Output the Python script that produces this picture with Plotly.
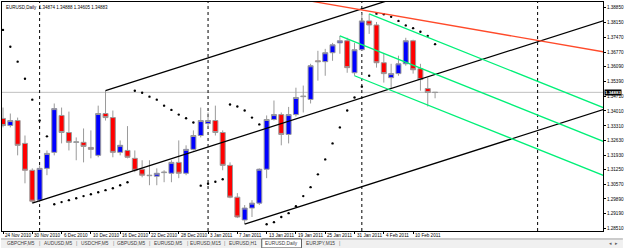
import plotly.graph_objects as go

# ---------------- data ----------------
dates = ["2010-11-24", "2010-11-25", "2010-11-26", "2010-11-29", "2010-11-30",
         "2010-12-01", "2010-12-02", "2010-12-03", "2010-12-06", "2010-12-07",
         "2010-12-08", "2010-12-09", "2010-12-10", "2010-12-13", "2010-12-14",
         "2010-12-15", "2010-12-16", "2010-12-17", "2010-12-20", "2010-12-21",
         "2010-12-22", "2010-12-23", "2010-12-24", "2010-12-27", "2010-12-28",
         "2010-12-29", "2010-12-30", "2010-12-31", "2011-01-03", "2011-01-04",
         "2011-01-05", "2011-01-06", "2011-01-07", "2011-01-10", "2011-01-11",
         "2011-01-12", "2011-01-13", "2011-01-14", "2011-01-17", "2011-01-18",
         "2011-01-19", "2011-01-20", "2011-01-21", "2011-01-24", "2011-01-25",
         "2011-01-26", "2011-01-27", "2011-01-28", "2011-01-31", "2011-02-01",
         "2011-02-02", "2011-02-03", "2011-02-04", "2011-02-07", "2011-02-08",
         "2011-02-09", "2011-02-10", "2011-02-11", "2011-02-14", "2011-02-15"]

opens = [1.3366, 1.3333, 1.3356, 1.3249, 1.3123, 1.2983, 1.3132, 1.3207, 1.3380, 1.3300,
         1.3254, 1.3254, 1.3230, 1.3193, 1.3389, 1.3370, 1.3207, 1.3216, 1.3179, 1.3128,
         1.3100, 1.3095, 1.3112, 1.3109, 1.3160, 1.3109, 1.3221, 1.3286, 1.3342, 1.3356,
         1.3300, 1.3146, 1.2997, 1.2890, 1.2946, 1.2969, 1.3128, 1.3361, 1.3384, 1.3291,
         1.3384, 1.3468, 1.3455, 1.3636, 1.3632, 1.3674, 1.3720, 1.3730, 1.3580, 1.3688,
         1.3823, 1.3804, 1.3627, 1.3557, 1.3576, 1.3622, 1.3730, 1.3599, 1.3506, 1.34874]
highs = [1.3417, 1.3389, 1.3370, 1.3286, 1.3132, 1.3146, 1.3216, 1.3436, 1.3417, 1.3398,
         1.3277, 1.3319, 1.3310, 1.3426, 1.3496, 1.3403, 1.3263, 1.3330, 1.3216, 1.3170,
         1.3170, 1.3132, 1.3123, 1.3170, 1.3263, 1.3240, 1.3310, 1.3417, 1.3394, 1.3426,
         1.3310, 1.3160, 1.3016, 1.2960, 1.2983, 1.3132, 1.3380, 1.3450, 1.3394, 1.3420,
         1.3510, 1.3520, 1.3622, 1.3683, 1.3692, 1.3720, 1.3753, 1.3744, 1.3720, 1.3860,
         1.3856, 1.3818, 1.3669, 1.3622, 1.3660, 1.3744, 1.3735, 1.3622, 1.3557, 1.34888]
lows = [1.3324, 1.3324, 1.3193, 1.3062, 1.2969, 1.2974, 1.3100, 1.3193, 1.3249, 1.3216,
        1.3170, 1.3160, 1.3179, 1.3184, 1.3356, 1.3184, 1.3193, 1.3179, 1.3114, 1.3090,
        1.3053, 1.3053, 1.3067, 1.3067, 1.3086, 1.3100, 1.3216, 1.3277, 1.3319, 1.3286,
        1.3123, 1.2992, 1.2899, 1.2871, 1.2904, 1.2960, 1.3086, 1.3356, 1.3240, 1.3249,
        1.3375, 1.3394, 1.3436, 1.3543, 1.3566, 1.3636, 1.3669, 1.3580, 1.3566, 1.3683,
        1.3762, 1.3604, 1.3534, 1.3506, 1.3566, 1.3613, 1.3576, 1.3496, 1.3422, 1.34605]
closes = [1.3333, 1.3356, 1.3240, 1.3123, 1.2978, 1.3132, 1.3202, 1.3412, 1.3300, 1.3254,
          1.3256, 1.3235, 1.3221, 1.3389, 1.3370, 1.3207, 1.3240, 1.3184, 1.3123, 1.3100,
          1.3098, 1.3109, 1.3114, 1.3160, 1.3109, 1.3221, 1.3286, 1.3356, 1.3356, 1.3300,
          1.3146, 1.2997, 1.2904, 1.2946, 1.2969, 1.3128, 1.3361, 1.3384, 1.3291, 1.3384,
          1.3464, 1.3470, 1.3613, 1.3632, 1.3674, 1.3711, 1.3730, 1.3604, 1.3688, 1.3823,
          1.3804, 1.3627, 1.3576, 1.3576, 1.3622, 1.3730, 1.3594, 1.3548, 1.34874, 1.34883]

# Parabolic SAR values
sar = [1.3781, 1.3702, 1.3632, 1.3552, 1.3454, 1.3356, 1.3282,
       1.2964, 1.2974, 1.2983, 1.2992, 1.3002, 1.3011, 1.3020, 1.3030, 1.3039, 1.3053, 1.3067,
       1.3496, 1.3486, 1.3468, 1.3454, 1.3426, 1.3406, 1.3384, 1.3367, 1.3347,
       1.3051, 1.3060, 1.3069, 1.3081,
       1.3431, 1.3422, 1.3403, 1.3370, 1.3338,
       1.2870, 1.2880, 1.2904, 1.2922, 1.2955, 1.3002, 1.3044, 1.3104, 1.3174, 1.3249,
       1.3324, 1.3403, 1.3464, 1.3515, 1.3566,
       1.3857, 1.3854, 1.3842, 1.3823, 1.3802, 1.3789, 1.3772, 1.3753, 1.3714]

date_labels = ["24 Nov 2010", "30 Nov 2010", "6 Dec 2010", "10 Dec 2010", "16 Dec 2010",
               "22 Dec 2010", "28 Dec 2010", "3 Jan 2011", "7 Jan 2011", "13 Jan 2011",
               "19 Jan 2011", "25 Jan 2011", "31 Jan 2011", "4 Feb 2011", "10 Feb 2011"]
date_label_dates = ["2010-11-24", "2010-11-30", "2010-12-06", "2010-12-10", "2010-12-16",
                    "2010-12-22", "2010-12-28", "2011-01-03", "2011-01-07", "2011-01-13",
                    "2011-01-19", "2011-01-25", "2011-01-31", "2011-02-04", "2011-02-10"]

price_ticks = [1.38850, 1.38150, 1.37470, 1.36770, 1.36090, 1.35390, 1.34710, 1.34010,
               1.33310, 1.32630, 1.31930, 1.31250, 1.30570, 1.29890, 1.29190, 1.28510]

bid_price = 1.34883
header = "EURUSD,Daily  1.34874 1.34888 1.34605 1.34883"

# monthly period separators (bar numbers; last one is in the future area)
separator_bars = [5, 28, 49, 73]

# drawn trend lines: start bar, start price, end bar, end price
black_lines = [(4, 1.2969, 82, 1.3824),
               (14, 1.3496, 82, 1.4241),
               (33, 1.2871, 82, 1.3408)]
red_lines = [(40, 1.3928, 82, 1.3678)]
green_lines = [(50, 1.3856, 82, 1.3416),
               (46, 1.3753, 82, 1.3258),
               (48, 1.3566, 82, 1.3099)]

tabs = ["GBPCHF,M5", "AUDUSD,M5", "USDCHF,M5", "GBPUSD,M5", "EURUSD,M5",
        "EURUSD,M15", "EURUSD,H1", "EURUSD,Daily", "EURJPY,M15"]
active_tab = "EURUSD,Daily"

# ---------------- figure ----------------
W, H = 625, 248
PL, PR, PT, PB = 1, 605, 1, 231   # plot area in pixels
BAR0, BARW = 2.0, 7.36            # first bar pixel and bar spacing
TAB_EDGES = [2, 39, 76, 113, 149, 187, 225, 262, 302, 340]   # tab strip layout (pixels)


def px(X):
    return (X - PL) / (PR - PL)


def py(Y):
    return (PB - Y) / (PB - PT)


bars = list(range(len(dates)))
FONT = "Liberation Sans, Arial, sans-serif"

fig = go.Figure()

fig.add_trace(go.Candlestick(
    x=bars, open=opens, high=highs, low=lows, close=closes,
    increasing=dict(fillcolor="#0000ff", line=dict(color="#9a9a9a", width=1)),
    decreasing=dict(fillcolor="#ff0000", line=dict(color="#9a9a9a", width=1)),
    whiskerwidth=0, showlegend=False, hoverinfo="skip"))

fig.add_trace(go.Scatter(
    x=bars, y=sar, mode="markers",
    marker=dict(symbol="circle", size=2.4, color="#000000"),
    showlegend=False, hoverinfo="skip"))

for group, color in ((black_lines, "#000000"), (red_lines, "#ff4a2a"), (green_lines, "#00f078")):
    for (b0, p0, b1, p1) in group:
        fig.add_trace(go.Scatter(x=[b0, b1], y=[p0, p1], mode="lines",
                                 line=dict(color=color, width=1.3),
                                 showlegend=False, hoverinfo="skip"))

shapes = []
shapes.append(dict(type="line", xref="paper", x0=0, x1=1, yref="y", y0=bid_price, y1=bid_price,
                   line=dict(color="#c0c0c0", width=1), layer="below"))
for b in separator_bars:
    shapes.append(dict(type="line", xref="x", x0=b, x1=b, yref="paper", y0=0, y1=1,
                       line=dict(color="#000000", width=1, dash="dot"), layer="below"))
# tab strip
shapes.append(dict(type="rect", xref="paper", yref="paper", x0=px(0), x1=px(W),
                   y0=py(H), y1=py(239), fillcolor="#f0f0f0", line=dict(width=0)))
shapes.append(dict(type="line", xref="paper", yref="paper", x0=px(0), x1=px(W),
                   y0=py(239), y1=py(239), line=dict(color="#a0a0a0", width=1)))

annotations = []
annotations.append(dict(text=header, xref="paper", yref="paper", x=px(3), y=py(2),
                        xanchor="left", yanchor="top", showarrow=False,
                        font=dict(family=FONT, size=4.5, color="#000000")))
annotations.append(dict(text="<b>%.5f</b>" % bid_price, xref="paper", yref="paper", x=px(606),
                        y=py(92), xanchor="left", yanchor="middle", showarrow=False,
                        bgcolor="#000000", borderpad=0,
                        font=dict(family=FONT, size=4.4, color="#ffffff")))
for lab, d in zip(date_labels, date_label_dates):
    annotations.append(dict(text=lab, xref="x", yref="paper", x=dates.index(d), y=py(236),
                            xanchor="left", yanchor="middle", showarrow=False,
                            font=dict(family=FONT, size=4.6, color="#000000")))

for k, t in enumerate(tabs):
    x0, x1 = TAB_EDGES[k], TAB_EDGES[k + 1]
    if t == active_tab:
        shapes.append(dict(type="rect", xref="paper", yref="paper",
                           x0=px(x0), x1=px(x1), y0=py(248), y1=py(239),
                           fillcolor="#ffffff", line=dict(color="#606060", width=1)))
    else:
        annotations.append(dict(text="|", xref="paper", yref="paper", x=px(x1), y=py(243.5),
                                xanchor="center", yanchor="middle", showarrow=False,
                                font=dict(family=FONT, size=5, color="#808080")))
    annotations.append(dict(text=t, xref="paper", yref="paper", x=px((x0 + x1) / 2), y=py(243.5),
                            xanchor="center", yanchor="middle", showarrow=False,
                            font=dict(family=FONT, size=4.8, color="#404040")))
annotations.append(dict(text="◂  ▸", xref="paper", yref="paper", x=px(616), y=py(243.5),
                        xanchor="center", yanchor="middle", showarrow=False,
                        font=dict(family=FONT, size=5, color="#606060")))

p_top = 1.39163 - 0.0004666 * PT
p_bot = 1.39163 - 0.0004666 * PB

fig.update_layout(
    width=W, height=H,
    margin=dict(l=PL, r=W - PR, t=PT, b=H - PB, pad=0),
    paper_bgcolor="#ffffff", plot_bgcolor="#ffffff",
    boxgap=0.32, boxgroupgap=0,
    shapes=shapes, annotations=annotations,
    xaxis=dict(range=[(PL - BAR0) / BARW, (PR - BAR0) / BARW],
               tickvals=[dates.index(d) for d in date_label_dates],
               showticklabels=False, ticks="outside", ticklen=2, tickcolor="#000000",
               showline=True, mirror=True, linecolor="#000000", linewidth=1,
               showgrid=False, zeroline=False, rangeslider=dict(visible=False), fixedrange=True),
    yaxis=dict(side="right", range=[p_bot, p_top], tickvals=price_ticks,
               ticktext=["%.5f" % v for v in price_ticks],
               ticks="outside", ticklen=2, tickcolor="#000000",
               tickfont=dict(family=FONT, size=4.6, color="#000000"),
               showline=True, mirror=True, linecolor="#000000", linewidth=1,
               showgrid=False, zeroline=False, fixedrange=True),
)

fig.write_html("out.html")
